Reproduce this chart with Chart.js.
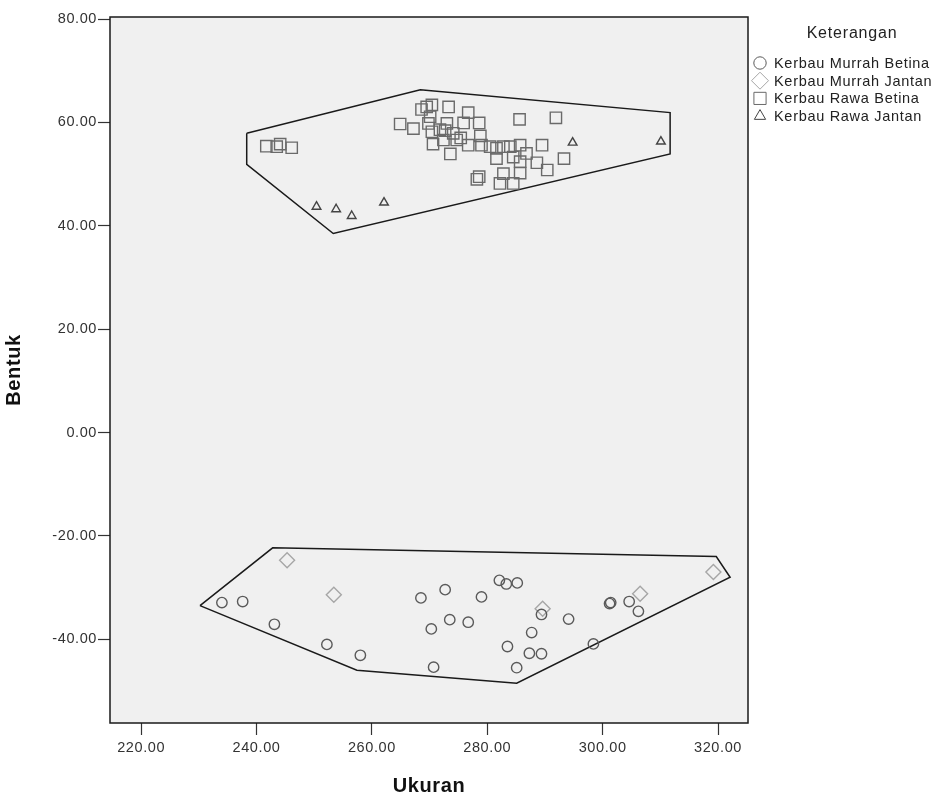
<!DOCTYPE html>
<html>
<head>
<meta charset="utf-8">
<script src="https://cdn.jsdelivr.net/npm/chart.js@4/dist/chart.umd.min.js"></script>
<style>
  html, body { margin: 0; padding: 0; background: #fff; }
  #wrap { width: 950px; height: 798px; }
</style>
</head>
<body>
<div id="wrap"><canvas id="chart" width="950" height="798"></canvas></div>
<script>
	'use strict';

	// Axis ticks.
	var xTicks = [220, 240, 260, 280, 300, 320];
	var yTicks = [-40, -20, 0, 20, 40, 60, 80];

	// Series labels (legend order).
	var seriesNames = ['Kerbau Murrah Betina', 'Kerbau Murrah Jantan', 'Kerbau Rawa Betina', 'Kerbau Rawa Jantan'];

	// Kerbau Murrah Betina (circles).
	var murrahBetinaX = [234.0, 237.6, 243.1, 252.2, 258.0, 268.5, 272.7, 273.5, 270.3, 270.7, 276.7, 279.0, 282.1, 283.3, 285.2, 289.4, 287.7, 283.5, 287.3, 289.4, 285.1, 294.1, 298.4, 301.4, 301.2, 304.6, 306.2];
	var murrahBetinaY = [-32.9, -32.7, -37.1, -41.0, -43.1, -32.0, -30.4, -36.2, -38.0, -45.4, -36.7, -31.8, -28.6, -29.3, -29.1, -35.2, -38.7, -41.4, -42.7, -42.8, -45.5, -36.1, -40.9, -32.9, -33.1, -32.7, -34.6];

	// Kerbau Murrah Jantan (diamonds).
	var murrahJantanX = [245.3, 253.4, 289.6, 306.5, 319.2];
	var murrahJantanY = [-24.7, -31.4, -34.1, -31.2, -27.0];

	// Kerbau Rawa Betina (squares).
	var rawaBetinaX = [241.7, 243.5, 244.1, 246.1, 264.9, 267.2, 268.6, 269.5, 270.4, 270.1, 269.8, 270.4, 270.6,
		285.6, 291.9, 289.5, 293.3, 290.4, 288.6, 286.8, 285.7, 285.7, 285.7, 284.5, 282.2, 282.8, 278.6, 278.2,
		284.0, 281.6, 281.6, 284.5, 282.8, 280.5, 279.0, 278.8, 278.6, 276.7, 275.9, 276.7, 274.7, 273.6, 273.3,
		273.0, 271.8, 272.4, 274.1, 272.7, 275.4];
	var rawaBetinaY = [55.4, 55.3, 55.8, 55.1, 59.7, 58.8, 62.5, 63.0, 63.4, 61.1, 59.8, 58.2, 55.8,
		60.6, 60.9, 55.6, 53.0, 50.8, 52.2, 54.0, 55.6, 52.4, 50.2, 48.2, 48.2, 50.1, 49.5, 49.0,
		55.3, 55.0, 53.0, 53.3, 55.3, 55.3, 55.6, 57.4, 59.9, 61.9, 59.9, 55.6, 56.6, 53.9, 63.0,
		59.8, 58.6, 56.6, 57.9, 58.4, 57.0];

	// Kerbau Rawa Jantan (triangles).
	var rawaJantanX = [250.4, 253.8, 256.5, 262.1, 294.8, 310.1];
	var rawaJantanY = [43.7, 43.2, 41.9, 44.5, 56.1, 56.3];

	// Hull outlines around the two groups.
	var hullRawaX = [238.3, 268.4, 311.7, 311.7, 253.3, 238.3, 238.3];
	var hullRawaY = [57.9, 66.3, 61.9, 53.9, 38.5, 51.9, 57.9];
	var hullMurrahX = [230.2, 242.8, 319.7, 322.1, 285.1, 257.4, 230.2];
	var hullMurrahY = [-33.5, -22.3, -24.0, -28.0, -48.5, -46.0, -33.5];

	var FONT = '"Liberation Sans", Arial, sans-serif';

	function toPoints(xs, ys) {
		return xs.map(function (x, i) {
			return { x: x, y: ys[i] };
		});
	}

	var pointSets = [
		{ data: toPoints(murrahBetinaX, murrahBetinaY), style: 'circle', radius: 5.2, legendRadius: 6.2, color: '#5a5a5a' },
		{ data: toPoints(murrahJantanX, murrahJantanY), style: 'rectRot', radius: 7.5, legendRadius: 8.5, color: '#a6a6a6' },
		{ data: toPoints(rawaBetinaX, rawaBetinaY), style: 'rect', radius: 8, legendRadius: 8.6, color: '#6a6a6a' },
		{ data: toPoints(rawaJantanX, rawaJantanY), style: 'triangle', radius: 5, legendRadius: 6.5, color: '#444444' }
	];

	var datasets = pointSets.map(function (s, i) {
		return {
			label: seriesNames[i],
			data: s.data,
			pointStyle: s.style,
			pointRadius: s.radius,
			pointHoverRadius: s.radius,
			pointBorderWidth: 1.4,
			borderColor: s.color,
			backgroundColor: 'rgba(0,0,0,0)',
			showLine: false
		};
	});

	[[hullRawaX, hullRawaY], [hullMurrahX, hullMurrahY]].forEach(function (h) {
		datasets.push({
			label: 'hull',
			data: toPoints(h[0], h[1]),
			showLine: true,
			pointRadius: 0,
			borderColor: '#1a1a1a',
			borderWidth: 1.5,
			backgroundColor: 'rgba(0,0,0,0)',
			tension: 0
		});
	});

	// Plot panel background and frame; slightly wider letter spacing like the SPSS output.
	var panelPlugin = {
		id: 'panel',
		beforeDraw: function (chart) {
			chart.ctx.letterSpacing = '0.6px';
		},
		beforeDatasetsDraw: function (chart) {
			var a = chart.chartArea;
			var ctx = chart.ctx;
			ctx.save();
			ctx.fillStyle = '#f0f0f0';
			ctx.fillRect(a.left, a.top, a.right - a.left, a.bottom - a.top);
			ctx.restore();
		},
		afterDatasetsDraw: function (chart) {
			var a = chart.chartArea;
			var ctx = chart.ctx;
			ctx.save();
			ctx.strokeStyle = '#1a1a1a';
			ctx.lineWidth = 1.5;
			ctx.strokeRect(a.left, a.top, a.right - a.left, a.bottom - a.top);
			ctx.restore();
		}
	};

	// Legend drawn at the right, SPSS style.
	var legendPlugin = {
		id: 'sideLegend',
		afterDraw: function (chart) {
			var ctx = chart.ctx;
			ctx.save();
			ctx.fillStyle = '#222';
			ctx.letterSpacing = '0.8px';
			ctx.font = '16px ' + FONT;
			ctx.textAlign = 'center';
			ctx.textBaseline = 'middle';
			ctx.fillText('Keterangan', 852, 34);
			ctx.font = '14.5px ' + FONT;
			ctx.letterSpacing = '0.7px';
			ctx.textAlign = 'left';
			for (var i = 0; i < 4; i++) {
				var y = 63 + i * 17.7;
				var s = pointSets[i];
				ctx.strokeStyle = s.color;
				ctx.fillStyle = 'rgba(0,0,0,0)';
				Chart.helpers.drawPoint(ctx, {
					pointStyle: s.style,
					radius: s.legendRadius,
					rotation: 0,
					borderWidth: 1.4
				}, 760, y);
				ctx.fillStyle = '#222';
				ctx.fillText(seriesNames[i], 774, y + 1);
			}
			ctx.restore();
		}
	};

	new Chart(document.getElementById('chart').getContext('2d'), {
		type: 'scatter',
		data: { datasets: datasets },
		options: {
			responsive: false,
			animation: false,
			layout: {
				padding: { top: 17, right: 202, left: 0, bottom: 0 }
			},
			plugins: {
				legend: { display: false },
				tooltip: { enabled: false }
			},
			scales: {
				x: {
					type: 'linear',
					min: 214.6,
					max: 325.2,
					afterBuildTicks: function (scale) {
						scale.ticks = xTicks.map(function (v) { return { value: v }; });
					},
					afterFit: function (scale) {
						scale.height = 75;
					},
					grid: {
						drawOnChartArea: false,
						drawTicks: true,
						tickLength: 12,
						tickWidth: 1.2,
						tickColor: '#333'
					},
					border: { display: false },
					ticks: {
						color: '#333',
						padding: 4,
						font: { family: FONT, size: 14.5 },
						callback: function (v) { return Number(v).toFixed(2); }
					},
					title: {
						display: true,
						text: 'Ukuran',
						color: '#111',
						padding: { top: 8, bottom: 0 },
						font: { family: FONT, size: 20, weight: 'bold' }
					}
				},
				y: {
					type: 'linear',
					min: -56.2,
					max: 80.4,
					afterBuildTicks: function (scale) {
						scale.ticks = yTicks.map(function (v) { return { value: v }; });
					},
					afterFit: function (scale) {
						scale.width = 110;
					},
					grid: {
						drawOnChartArea: false,
						drawTicks: true,
						tickLength: 12,
						tickWidth: 1.2,
						tickColor: '#333'
					},
					border: { display: false },
					ticks: {
						color: '#333',
						padding: 1,
						font: { family: FONT, size: 14.5 },
						callback: function (v) { return Number(v).toFixed(2); }
					},
					title: {
						display: true,
						text: 'Bentuk',
						color: '#111',
						padding: { top: 2, bottom: 0 },
						font: { family: FONT, size: 20, weight: 'bold' }
					}
				}
			}
		},
		plugins: [panelPlugin, legendPlugin]
	});
</script>
</body>
</html>
